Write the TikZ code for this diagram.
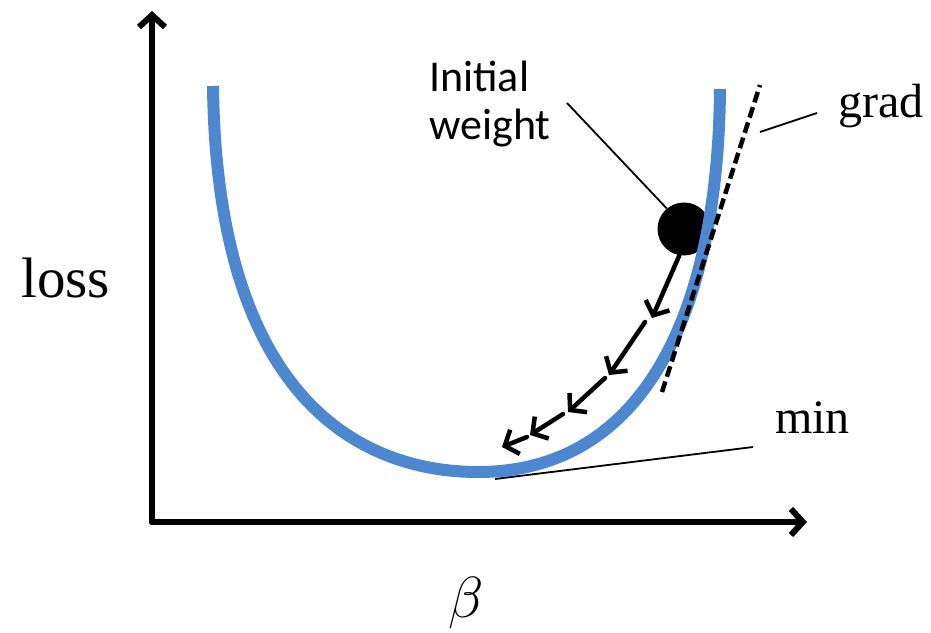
\RequirePackage{fix-cm}
\documentclass[tikz,border=0pt]{standalone}
\usepackage{fontspec}
\usepackage{tikz}
\usetikzlibrary{arrows.meta}
\newfontfamily\calibrifont{Carlito}
\newfontfamily\timesfont{Liberation Serif}
\definecolor{LossBlue}{HTML}{4C87D0}

\begin{document}
\begin{tikzpicture}[
  x=1pt, y=-1pt,
  axis/.style={line width=6pt, line cap=round,
               -{Straight Barb[length=12pt, width=26pt, line width=6pt]}},
  lossline/.style={line width=12pt, LossBlue},
  gradline/.style={line width=4.5pt, dash pattern=on 11pt off 5pt},
  stepline/.style={line width=4.5pt, line cap=round,
                   -{Straight Barb[length=11pt, width=26pt, line width=4.5pt]}},
  leader/.style={line width=1.8pt},
  serif/.style={inner sep=0pt, font=\timesfont\fontsize{48}{52}\selectfont},
  ball/.style={circle, fill=black, inner sep=0pt, minimum size=53pt},
]
\useasboundingbox (0,0) rectangle (931,632);

%% ── Axes ─────────────────────────────────────
\coordinate (O)    at (152,522);
\coordinate (ytip) at (152,11);
\coordinate (xtip) at (807,522);
\draw[axis] (O) -- (ytip);
\draw[axis] (O) -- (xtip);

%% ── Initial weight (under the curve) ────────
\node[ball] at (684,229) (ball) {};

%% ── Loss curve ───────────────────────────────
\coordinate (ltop)   at (213,86);
\coordinate (bottom) at (478,472);
\coordinate (rtop)   at (720,89);
\draw[lossline] (ltop) .. controls (217,420) and (380,472) .. (bottom)
                       .. controls (640,472) and (718,320) .. (rtop);

%% ── Gradient (tangent) ───────────────────────
\coordinate (glow)  at (662,392);
\coordinate (ghigh) at (760,85);
\draw[gradline] (glow) -- (ghigh);

%% ── Descent steps ────────────────────────────
\coordinate (s1) at (652,318);
\coordinate (t2) at (645,322); \coordinate (s2) at (609,375);
\coordinate (t3) at (605,378); \coordinate (s3) at (568,412);
\coordinate (t4) at (563,414); \coordinate (s4) at (530,435);
\coordinate (t5) at (527,437); \coordinate (s5) at (502,447);
\draw[stepline] (ball.-100) -- (s1);
\draw[stepline] (t2) -- (s2);
\draw[stepline] (t3) -- (s3);
\draw[stepline] (t4) -- (s4);
\draw[stepline] (t5) -- (s5);

%% ── Labels ───────────────────────────────────
\node[inner sep=0pt, anchor=base west,
      font=\timesfont\fontsize{57}{60}\selectfont] at (21,297) (loss) {loss};
\node[inner sep=0pt, font=\fontsize{58}{60}\selectfont]
      at (466,603) (beta) {$\beta$};
\node[serif, anchor=base west] at (838,117) (grad) {grad};
\node[serif, anchor=base west] at (775,433) (min)  {min};
\node[inner sep=0pt, anchor=north west, align=left,
      font=\calibrifont\fontsize{44}{48}\selectfont]
      at (429,61) (init) {Initial\\weight};

%% ── Leader lines ─────────────────────────────
\coordinate (ifoot) at (567,103);
\coordinate (gfoot) at (760,132);
\coordinate (gend)  at (817,113);
\coordinate (mfoot) at (495,479);
\coordinate (mend)  at (753,447);
\draw[leader] (ifoot) -- (ball.130);
\draw[leader] (gfoot) -- (gend);
\draw[leader] (mfoot) -- (mend);

\end{tikzpicture}
\end{document}
